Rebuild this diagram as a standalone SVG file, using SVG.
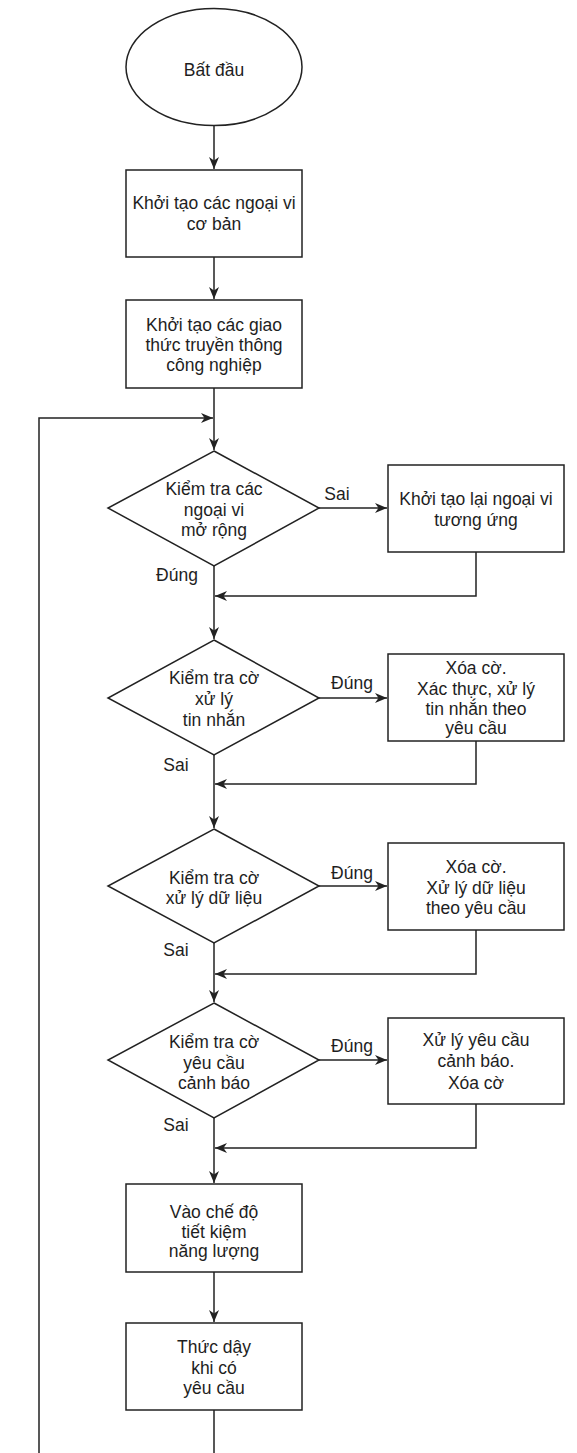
<svg xmlns="http://www.w3.org/2000/svg" width="577" height="1453" viewBox="0 0 577 1453">
<style>
.shape{fill:#ffffff;stroke:#222222;stroke-width:1.5}
.edge{fill:none;stroke:#222222;stroke-width:1.5}
text{font-family:"Liberation Sans",Arial,Helvetica,sans-serif;font-size:17.5px;fill:#1e1e1e;text-anchor:middle;dominant-baseline:central}
</style>
<defs>
<marker id="arr" markerUnits="userSpaceOnUse" markerWidth="13" markerHeight="11" refX="12" refY="5" orient="auto">
<path d="M0,0 L12,5 L0,10 L3.5,5 Z" fill="#222222"/>
</marker>
</defs>
<rect width="577" height="1453" fill="#ffffff"/>
<g id="connectors">
<line class="edge" x1="214" y1="126" x2="214" y2="169" marker-end="url(#arr)"/>
<line class="edge" x1="214" y1="257" x2="214" y2="299" marker-end="url(#arr)"/>
<line class="edge" x1="214" y1="388" x2="214" y2="450" marker-end="url(#arr)"/>
<line class="edge" x1="319" y1="508" x2="387" y2="508" marker-end="url(#arr)"/>
<polyline class="edge" points="476,552 476,596 215,596" marker-end="url(#arr)"/>
<line class="edge" x1="214" y1="566" x2="214" y2="639" marker-end="url(#arr)"/>
<line class="edge" x1="319" y1="698" x2="387" y2="698" marker-end="url(#arr)"/>
<polyline class="edge" points="476,741 476,784 215,784" marker-end="url(#arr)"/>
<line class="edge" x1="214" y1="755" x2="214" y2="828" marker-end="url(#arr)"/>
<line class="edge" x1="319" y1="886" x2="387" y2="886" marker-end="url(#arr)"/>
<polyline class="edge" points="476,930 476,974 215,974" marker-end="url(#arr)"/>
<line class="edge" x1="214" y1="943" x2="214" y2="1002" marker-end="url(#arr)"/>
<line class="edge" x1="319" y1="1060" x2="387" y2="1060" marker-end="url(#arr)"/>
<polyline class="edge" points="476,1104 476,1148 215,1148" marker-end="url(#arr)"/>
<line class="edge" x1="214" y1="1118" x2="214" y2="1183" marker-end="url(#arr)"/>
<line class="edge" x1="214" y1="1272" x2="214" y2="1322" marker-end="url(#arr)"/>
<polyline class="edge" points="214,1410 214,1458 39,1458 39,418 213,418" marker-end="url(#arr)"/>
<text x="337" y="494">Sai</text>
<text x="177" y="575">Đúng</text>
<text x="352" y="683">Đúng</text>
<text x="176" y="765">Sai</text>
<text x="352" y="873">Đúng</text>
<text x="176" y="950">Sai</text>
<text x="352" y="1046">Đúng</text>
<text x="176" y="1125">Sai</text>
</g>
<g id="start">
<ellipse class="shape" cx="214" cy="67" rx="88" ry="58.5"/>
<text x="214" y="70">Bất đầu</text>
</g>
<g id="init-basic">
<rect class="shape" x="126" y="170" width="176" height="87"/>
<text x="214" y="203">Khởi tạo các ngoại vi</text>
<text x="214" y="224">cơ bản</text>
</g>
<g id="init-comm">
<rect class="shape" x="126" y="300" width="176" height="88"/>
<text x="214" y="325">Khởi tạo các giao</text>
<text x="214" y="345">thức truyền thông</text>
<text x="214" y="365">công nghiệp</text>
</g>
<g id="check-ext">
<polygon class="shape" points="214,451 319,508 214,566 108,508"/>
<text x="214" y="489">Kiểm tra các</text>
<text x="214" y="510">ngoại vi</text>
<text x="214" y="530">mở rộng</text>
</g>
<g id="reinit">
<rect class="shape" x="388" y="465" width="176" height="87"/>
<text x="476" y="499">Khởi tạo lại ngoại vi</text>
<text x="476" y="520">tương ứng</text>
</g>
<g id="check-msg">
<polygon class="shape" points="214,640 319,698 214,755 108,698"/>
<text x="214" y="678">Kiểm tra cờ</text>
<text x="214" y="699">xử lý</text>
<text x="214" y="720">tin nhắn</text>
</g>
<g id="handle-msg">
<rect class="shape" x="388" y="654" width="176" height="87"/>
<text x="476" y="668">Xóa cờ.</text>
<text x="476" y="689">Xác thực, xử lý</text>
<text x="476" y="709">tin nhắn theo</text>
<text x="476" y="728">yêu cầu</text>
</g>
<g id="check-data">
<polygon class="shape" points="214,829 319,886 214,943 108,886"/>
<text x="214" y="878">Kiểm tra cờ</text>
<text x="214" y="898">xử lý dữ liệu</text>
</g>
<g id="handle-data">
<rect class="shape" x="388" y="843" width="176" height="87"/>
<text x="476" y="867">Xóa cờ.</text>
<text x="476" y="888">Xử lý dữ liệu</text>
<text x="476" y="908">theo yêu cầu</text>
</g>
<g id="check-alarm">
<polygon class="shape" points="214,1003 319,1060 214,1118 108,1060"/>
<text x="214" y="1042">Kiểm tra cờ</text>
<text x="214" y="1063">yêu cầu</text>
<text x="214" y="1083">cảnh báo</text>
</g>
<g id="handle-alarm">
<rect class="shape" x="388" y="1018" width="176" height="86"/>
<text x="476" y="1040">Xử lý yêu cầu</text>
<text x="476" y="1061">cảnh báo.</text>
<text x="476" y="1083">Xóa cờ</text>
</g>
<g id="sleep">
<rect class="shape" x="126" y="1184" width="176" height="88"/>
<text x="214" y="1212">Vào chế độ</text>
<text x="214" y="1232">tiết kiệm</text>
<text x="214" y="1251">năng lượng</text>
</g>
<g id="wake">
<rect class="shape" x="126" y="1323" width="176" height="87"/>
<text x="214" y="1347">Thức dậy</text>
<text x="214" y="1368">khi có</text>
<text x="214" y="1388">yêu cầu</text>
</g>
</svg>
